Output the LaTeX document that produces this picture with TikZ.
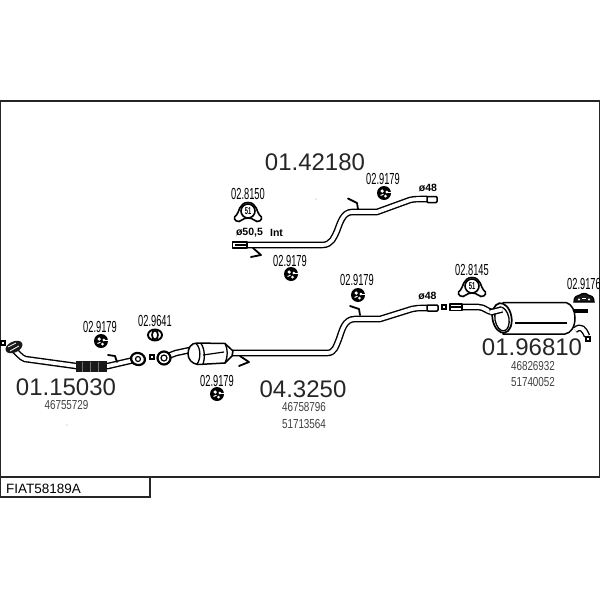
\documentclass[tikz,border=0pt]{standalone}
\usepackage{fontspec}
\setmainfont{Liberation Sans}
\newfontfamily\narrowfont[FakeStretch=0.58]{Liberation Sans}
\newfontfamily\oemfont[FakeStretch=0.76]{Liberation Sans}
\usetikzlibrary{calc}
\tikzset{
  partlabel/.style={font=\narrowfont\fontsize{16}{16}\selectfont,inner sep=0pt},
  oemlabel/.style={font=\oemfont\fontsize{13}{13}\selectfont,text=black!75,inner sep=0pt},
  biglabel/.style={font=\fontsize{24}{24}\selectfont,text=black!85,inner sep=0pt},
  dimlabel/.style={font=\bfseries\fontsize{10.5}{11}\selectfont,inner sep=0pt},
  pipeline/.style={draw,line width=1.4pt,double=white,double distance=3.8pt,line join=round},
  hookline/.style={draw,line width=1.8pt,line join=round,line cap=round},
  body/.style={draw,line width=1.5pt,fill=white,line join=round},
  grommet/.pic={
    \fill (0,0) circle (7);
    \fill [white] (-1.8,-2) circle (1.8) (2.8,-1) circle (1.5) (1.5,3) circle (1.5);
    \draw [white,line width=1pt] (-3.5,2.5) -- (-0.5,1.2);
    \draw [white,line width=1pt] (2.8,-1) -- (7,-1);
  },
  clamp/.pic={
    \draw [line width=1.6pt,fill=white] (-9,9.5) .. controls (-14,9.5) and (-15,5) .. (-11.5,3)
      .. controls (-9,1) and (-9,-9.5) .. (0,-9.5) .. controls (9,-9.5) and (9,1) .. (11.5,3)
      .. controls (15,5) and (14,9.5) .. (9,9.5) .. controls (6,9.5) and (6,6) .. (0,6)
      .. controls (-6,6) and (-6,9.5) .. (-9,9.5) -- cycle;
    \draw [line width=1.6pt] (0,-1) circle (7);
  },
  tinysquare/.pic={
    \draw [line width=1.4pt,fill=white] (-2,-2) rectangle (2,2);
  },
}
\begin{document}
\begin{tikzpicture}[x=1pt,y=-1pt]
  \useasboundingbox (0,0) rectangle (600,600);
  % frame and title
  \draw [line width=1.2pt,black!85] (0,101) rectangle (599.5,477);
  \draw [line width=1.2pt,black!85] (0,477) rectangle (150,497);
  \node (title) [anchor=west,inner sep=0pt,font=\fontsize{13.5}{14}\selectfont] at (6,488.5) {FIAT58189A};

  % front pipe
  \draw [pipeline] (13,349) .. controls (18,353) and (20,357) .. (25,359)
    -- (76,366) -- (108,366) -- (134,360);
  \fill [black!90] (76,361) rectangle (107,372);
  \foreach \x in {82,90,...,104}
    \draw [black!55,line width=0.3pt] (\x,361.5) -- (\x,371.5);
  \draw [hookline] (108,355) -- (115,356) -- (117,362);
  \fill [black!90,rotate around={25:(14,347)}] (14,347) ellipse (9 and 5.5);
  \draw [white,line width=0.8pt] (8,347) -- (16,343) (10,351) -- (19,346);
  \pic at (3,343) {tinysquare};
  \draw [line width=2.2pt,fill=white,rotate around={-15:(138,359)}] (138,359) ellipse (7 and 6);
  \draw [line width=1.2pt] (138,359) circle (2.5);
  \pic at (152,357) {tinysquare};
  \node (num1) [biglabel] at (66,387) {01.15030};
  \node (oem1) [oemlabel] at (66.5,405) {46755729};
  \fill (67,425) circle (0.4);

  % middle pipe
  \draw [pipeline] (232,353) -- (327,353) .. controls (335,353) and (336,346) .. (339,339)
    .. controls (342,331) and (344,319) .. (355,319) -- (380,319)
    -- (412,309) .. controls (416,308) and (418,308) .. (427,308);
  \draw [body,rounded corners=1pt] (427,305) rectangle (438,311);
  \draw [hookline] (360,315) -- (359,309) -- (350,306);
  \draw [hookline] (240,356) -- (249,362) -- (239,366);
  % catalyst
  \draw [pipeline] (190,350) -- (176,353) -- (168,356);
  \draw [line width=2.2pt,fill=white] (164,358) circle (6.5);
  \draw [line width=1.2pt] (164,358) circle (3);
  \draw [body] (197,343) -- (225,343.5) -- (233,351) -- (232,356) -- (225,363) -- (198,364.5)
    .. controls (192,364) and (188,359) .. (188,354) .. controls (188,348) and (191,343) .. (197,343) -- cycle;
  \draw [line width=1.3pt] (196,343.5) .. controls (201,348) and (201,359) .. (197,364);
  \draw [line width=1.3pt] (201,343.5) .. controls (205,349) and (205,359) .. (203,364);
  \draw [line width=1.3pt] (225,343.5) .. controls (228,349) and (228,357) .. (225,363);
  \draw [line width=1.2pt] (203,355) -- (224,352);
  \node (num2) [biglabel] at (303,389) {04.3250};
  \node (oem2a) [oemlabel] at (304,407) {46758796};
  \node (oem2b) [oemlabel] at (304,424) {51713564};
  \node (dim2) [dimlabel] at (427.5,296) {ø48};

  % intermediate pipe
  \draw [pipeline] (247,245) -- (322,245) .. controls (332,245) and (334,237) .. (337,231)
    .. controls (340,223) and (343,212) .. (352,212) -- (377,212)
    -- (410,200) .. controls (414,199) and (418,199) .. (427,199);
  \draw [body,rounded corners=1pt] (427,196.5) rectangle (437,202.5);
  \draw [body] (232.5,242) rectangle (247,248);
  \draw [line width=1.2pt] (235,245) -- (246,245);
  \draw [hookline] (358,209) -- (357,203) -- (348,198.5);
  \draw [hookline] (253,248) -- (261,255) -- (251,257);
  \node (num3) [biglabel] at (315,162) {01.42180};
  \node (dim3a) [dimlabel] at (249.5,233) {ø50,5};
  \node (dim3b) [dimlabel] at (276.5,233) {Int};
  \node (dim3c) [dimlabel] at (428,188) {ø48};
  \fill (316,199) circle (0.4);

  % rear silencer
  \pic at (444,307) {tinysquare};
  \draw [pipeline] (460,307) -- (478,307) .. controls (485,307) and (487,312) .. (493,312) -- (501,310);
  \draw [body] (450,304) rectangle (462,310.5);
  \draw [line width=1.2pt] (450,307) -- (461,307);
  \draw [line width=4pt] (574,311) -- (588,311);
  \draw [pipeline] (575,330) .. controls (581,325) and (584,329) .. (587,336);
  \pic at (588,339) {tinysquare};
  \draw [body] (503,302.5) -- (566,302.5) .. controls (572,304) and (575,311) .. (575,318)
    .. controls (575,327) and (571,333) .. (565,334) -- (503,334) -- cycle;
  \draw [line width=1.2pt] (515,323) -- (567,323);
  \draw [body,line width=1.7pt,rotate around={10:(502,318)}] (502,318) ellipse (9.5 and 15);
  \draw [line width=1.3pt,rotate around={10:(502,319)}] (502,319) ellipse (7 and 12);
  \draw [line width=1.4pt,double=white,double distance=3.8pt] (490,312.5) -- (502,309.5);
  \node (num4) [biglabel] at (532,347) {01.96810};
  \node (oem4a) [oemlabel] at (533,366) {46826932};
  \node (oem4b) [oemlabel] at (533,382) {51740052};

  % clamps
  \pic at (248,212) {clamp};
  \node (ring1) [inner sep=0pt,font=\narrowfont\bfseries\fontsize{10}{10}\selectfont] at (248,211) {51};
  \pic at (472,287) {clamp};
  \node (ring2) [inner sep=0pt,font=\narrowfont\bfseries\fontsize{10}{10}\selectfont] at (472,286) {51};
  \draw [line width=1.4pt,fill=black!90] (574,302) .. controls (574,296) and (577,296) .. (580,295)
    .. controls (582,293) and (586,293) .. (588,295) .. controls (591,295) and (594,297) .. (594,302)
    -- (574,302) -- cycle;
  \fill [white] (579,299.5) circle (1.2) (589,299.5) circle (1.2);
  \draw [white,line width=0.9pt] (582,298) -- (586,298);

  % rubber mounts
  \pic at (101,341) {grommet};
  \pic at (217,394) {grommet};
  \pic at (384,193) {grommet};
  \pic at (291,274) {grommet};
  \pic at (358,295) {grommet};
  \draw [line width=1.9pt,fill=white] (155,335) ellipse (7 and 5.5);
  \draw [line width=1.7pt] (155,335) ellipse (3 and 4.5);

  % part numbers
  \node (lab1) [partlabel] at (100,327) {02.9179};
  \node (lab2) [partlabel] at (155,321) {02.9641};
  \node (lab3) [partlabel] at (217,381) {02.9179};
  \node (lab4) [partlabel] at (383,179) {02.9179};
  \node (lab5) [partlabel] at (290,261) {02.9179};
  \node (lab6) [partlabel] at (357,280) {02.9179};
  \node (lab7) [partlabel] at (248,194) {02.8150};
  \node (lab8) [partlabel] at (472,270) {02.8145};
  \node (lab9) [partlabel] at (584,284) {02.9176};
\end{tikzpicture}
\end{document}
